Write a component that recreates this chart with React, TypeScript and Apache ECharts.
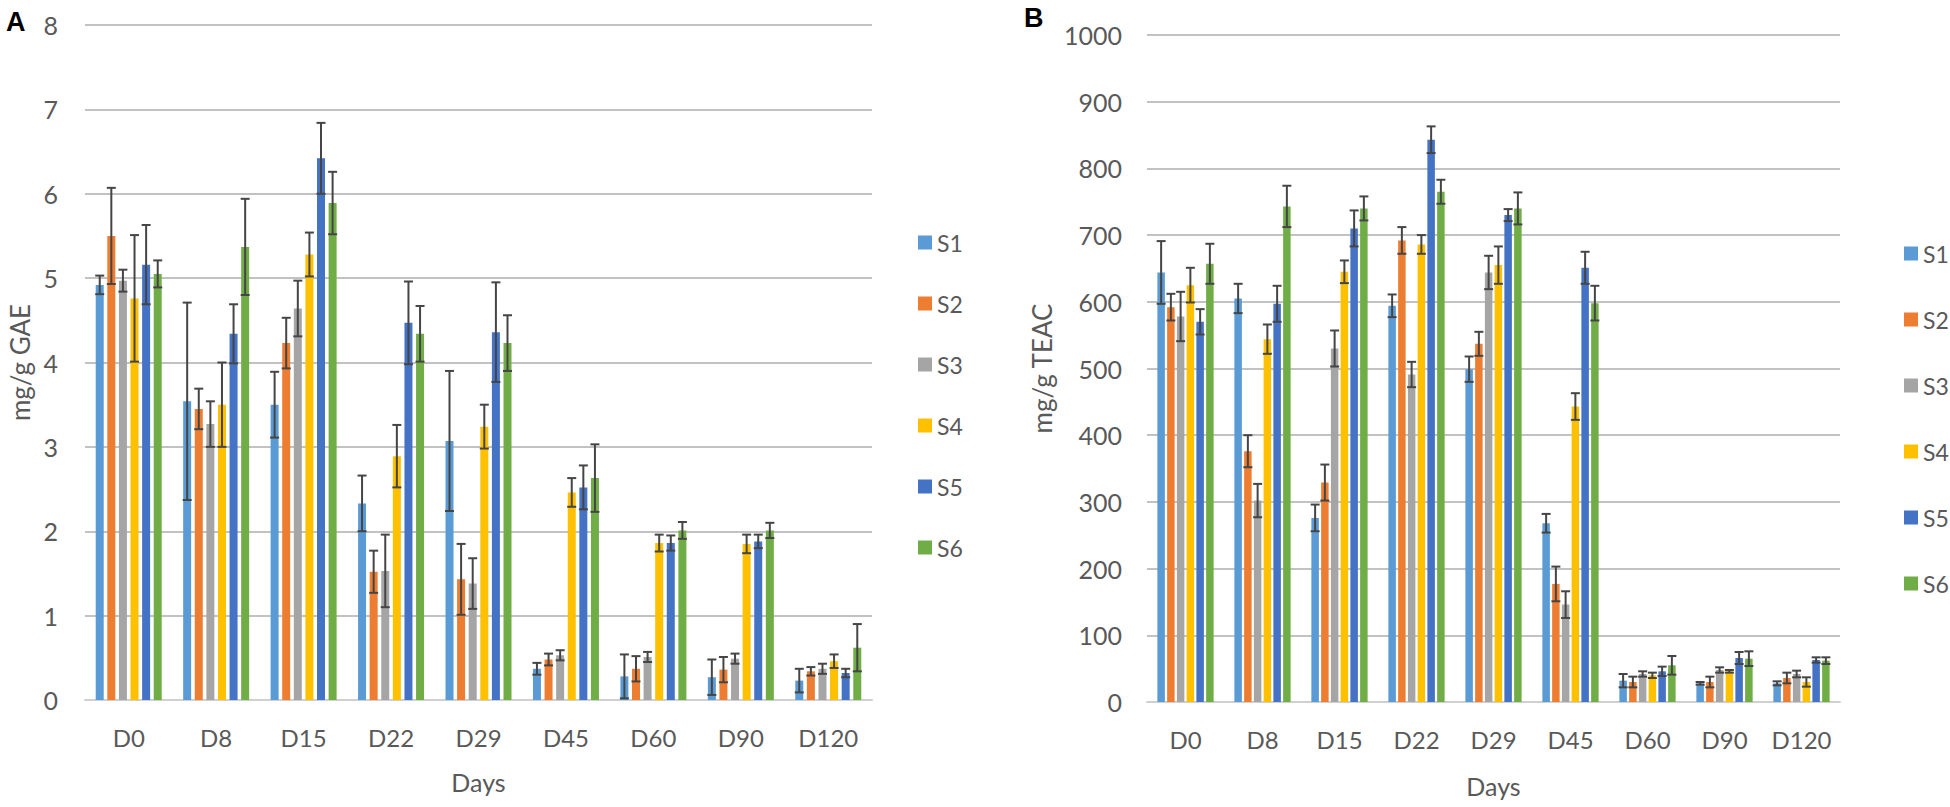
import React, { useEffect, useRef } from "react";
import * as echarts from "echarts";

const days = ["D0", "D8", "D15", "D22", "D29", "D45", "D60", "D90", "D120"];
const seriesNames = ["S1", "S2", "S3", "S4", "S5", "S6"];
const colors = ["#5B9BD5", "#ED7D31", "#A5A5A5", "#FFC000", "#4472C4", "#70AD47"];

// Panel A: mg/g GAE
const gaeS1 = [4.92, 3.54, 3.5, 2.33, 3.07, 0.37, 0.28, 0.27, 0.23];
const gaeS2 = [5.5, 3.45, 4.23, 1.52, 1.43, 0.48, 0.37, 0.36, 0.34];
const gaeS3 = [4.97, 3.27, 4.64, 1.53, 1.38, 0.53, 0.51, 0.49, 0.37];
const gaeS4 = [4.76, 3.5, 5.28, 2.89, 3.24, 2.46, 1.86, 1.85, 0.46];
const gaeS5 = [5.16, 4.34, 6.42, 4.47, 4.36, 2.52, 1.86, 1.88, 0.32];
const gaeS6 = [5.05, 5.37, 5.89, 4.34, 4.23, 2.63, 2.01, 2.01, 0.62];
const gaeErrS1 = [0.11, 1.17, 0.39, 0.33, 0.83, 0.07, 0.26, 0.21, 0.14];
const gaeErrS2 = [0.57, 0.24, 0.3, 0.25, 0.42, 0.07, 0.15, 0.15, 0.05];
const gaeErrS3 = [0.13, 0.27, 0.33, 0.43, 0.3, 0.06, 0.06, 0.06, 0.06];
const gaeErrS4 = [0.75, 0.5, 0.26, 0.37, 0.26, 0.17, 0.1, 0.11, 0.08];
const gaeErrS5 = [0.47, 0.35, 0.42, 0.49, 0.59, 0.26, 0.09, 0.08, 0.05];
const gaeErrS6 = [0.16, 0.57, 0.37, 0.33, 0.33, 0.4, 0.1, 0.09, 0.28];

// Panel B: mg/g TEAC
const teacS1 = [644, 605, 276, 594, 499, 268, 32, 28, 28];
const teacS2 = [592, 376, 329, 692, 537, 177, 30, 30, 36];
const teacS3 = [578, 302, 530, 491, 644, 146, 42, 48, 42];
const teacS4 = [625, 544, 645, 686, 655, 443, 40, 46, 30];
const teacS5 = [570, 597, 710, 843, 730, 651, 46, 66, 63];
const teacS6 = [657, 743, 740, 765, 740, 598, 55, 65, 62];
const teacErrS1 = [47, 22, 20, 17, 19, 14, 10, 2, 3];
const teacErrS2 = [20, 24, 27, 20, 18, 26, 8, 8, 8];
const teacErrS3 = [37, 25, 27, 19, 25, 20, 4, 4, 5];
const teacErrS4 = [26, 22, 17, 14, 28, 20, 4, 2, 7];
const teacErrS5 = [19, 27, 27, 20, 9, 24, 7, 9, 4];
const teacErrS6 = [30, 31, 18, 18, 24, 26, 14, 11, 5];

// Axis ticks
const gaeTicks = { min: 0, max: 8, interval: 1 };
const teacTicks = { min: 0, max: 1000, interval: 100 };

const gaeVals = [gaeS1, gaeS2, gaeS3, gaeS4, gaeS5, gaeS6];
const gaeErrs = [gaeErrS1, gaeErrS2, gaeErrS3, gaeErrS4, gaeErrS5, gaeErrS6];
const teacVals = [teacS1, teacS2, teacS3, teacS4, teacS5, teacS6];
const teacErrs = [teacErrS1, teacErrS2, teacErrS3, teacErrS4, teacErrS5, teacErrS6];

const FONT = "Lato";
const TXT = "#595959";
const GRID_C = "#C2C2C2";

function errSeries(gi: number, idx: number, vals: number[], errs: number[], w: number, g: number) {
  const n = 6;
  const total = n * w * (1 + g) - w * g;
  const off = -total / 2 + idx * w * (1 + g) + w / 2;
  return {
    type: "custom",
    name: "err" + gi + "_" + idx,
    xAxisIndex: gi,
    yAxisIndex: gi,
    z: 10,
    silent: true,
    data: vals.map((v, i) => [i, Math.max(0, v - errs[i]), v + errs[i]]),
    encode: { x: 0, y: [1, 2] },
    renderItem: (params: any, api: any) => {
      const c = api.value(0);
      const lo = api.coord([c, api.value(1)]);
      const hi = api.coord([c, api.value(2)]);
      const x = lo[0] + off;
      const cap = 4.5;
      const style = { stroke: "#454545", lineWidth: 2 };
      return {
        type: "group",
        children: [
          { type: "line", shape: { x1: x, y1: lo[1], x2: x, y2: hi[1] }, style },
          { type: "line", shape: { x1: x - cap, y1: hi[1], x2: x + cap, y2: hi[1] }, style },
          { type: "line", shape: { x1: x - cap, y1: lo[1], x2: x + cap, y2: lo[1] }, style },
        ],
      };
    },
  };
}

export default function App() {
  const ref = useRef<HTMLDivElement>(null);
  useEffect(() => {
    if (!ref.current) return;
    const chart = echarts.init(ref.current, undefined, { renderer: "svg" });
    const wA = 8, gA = 0.45;
    const wB = 7.5, gB = 0.3;
    const xAxisBase = (gi: number, nameGap: number) => ({
      type: "category",
      gridIndex: gi,
      data: days,
      name: "Days",
      nameLocation: "middle",
      nameGap,
      nameTextStyle: { fontFamily: FONT, fontSize: 25, color: TXT },
      axisLine: { show: true, lineStyle: { color: "#D0D0D0", width: 2 } },
      axisTick: { show: false },
      axisLabel: { fontFamily: FONT, fontSize: 24, color: TXT, margin: 25, interval: 0, hideOverlap: false },
    });
    const yAxisBase = (gi: number, name: string, ticks: any, nameGap: number, margin: number) => ({
      type: "value",
      gridIndex: gi,
      min: ticks.min,
      max: ticks.max,
      interval: ticks.interval,
      name,
      nameLocation: "middle",
      nameGap,
      nameTextStyle: { fontFamily: FONT, fontSize: 26, color: TXT },
      axisLine: { show: false },
      axisTick: { show: false },
      axisLabel: { fontFamily: FONT, fontSize: 25, color: TXT, margin, formatter: (v: number) => String(v) },
      splitLine: { show: true, lineStyle: { color: GRID_C, width: 2 } },
    });
    const series: any[] = [];
    seriesNames.forEach((nm, i) => {
      series.push({
        type: "bar",
        name: nm,
        xAxisIndex: 0,
        yAxisIndex: 0,
        data: gaeVals[i],
        barWidth: wA,
        barGap: gA * 100 + "%",
        itemStyle: { color: colors[i] },
      });
    });
    seriesNames.forEach((nm, i) => {
      series.push({
        type: "bar",
        name: nm,
        xAxisIndex: 1,
        yAxisIndex: 1,
        data: teacVals[i],
        barWidth: wB,
        barGap: gB * 100 + "%",
        itemStyle: { color: colors[i] },
      });
    });
    seriesNames.forEach((nm, i) => series.push(errSeries(0, i, gaeVals[i], gaeErrs[i], wA, gA)));
    seriesNames.forEach((nm, i) => series.push(errSeries(1, i, teacVals[i], teacErrs[i], wB, gB)));

    const legendBase = (left: number, top: number, gap: number) => ({
      data: seriesNames,
      orient: "vertical",
      left,
      top,
      icon: "rect",
      itemWidth: 14,
      itemHeight: 14,
      itemGap: gap,
      textStyle: { fontFamily: FONT, fontSize: 23, color: TXT },
      selectedMode: false,
    });

    chart.setOption({
      animation: false,
      backgroundColor: "#ffffff",
      grid: [
        { left: 85, top: 25, width: 787, height: 675 },
        { left: 1147, top: 35, width: 693, height: 667 },
      ],
      xAxis: [xAxisBase(0, 69), xAxisBase(1, 71)],
      yAxis: [yAxisBase(0, "mg/g GAE", gaeTicks, 52, 27), yAxisBase(1, "mg/g TEAC", teacTicks, 92, 25)],
      legend: [legendBase(913, 226, 38), legendBase(1899, 237, 43)],
      graphic: [
        { type: "text", left: 6, top: 8, style: { text: "A", fontFamily: "Liberation Sans", fontWeight: "bold", fontSize: 27, fill: "#000" } },
        { type: "text", left: 1024, top: 4, style: { text: "B", fontFamily: "Liberation Sans", fontWeight: "bold", fontSize: 27, fill: "#000" } },
      ],
      series,
    });
    return () => chart.dispose();
  }, []);
  return <div ref={ref} style={{ position: "fixed", left: 0, top: 0, width: 1950, height: 807, background: "#fff" }} />;
}
